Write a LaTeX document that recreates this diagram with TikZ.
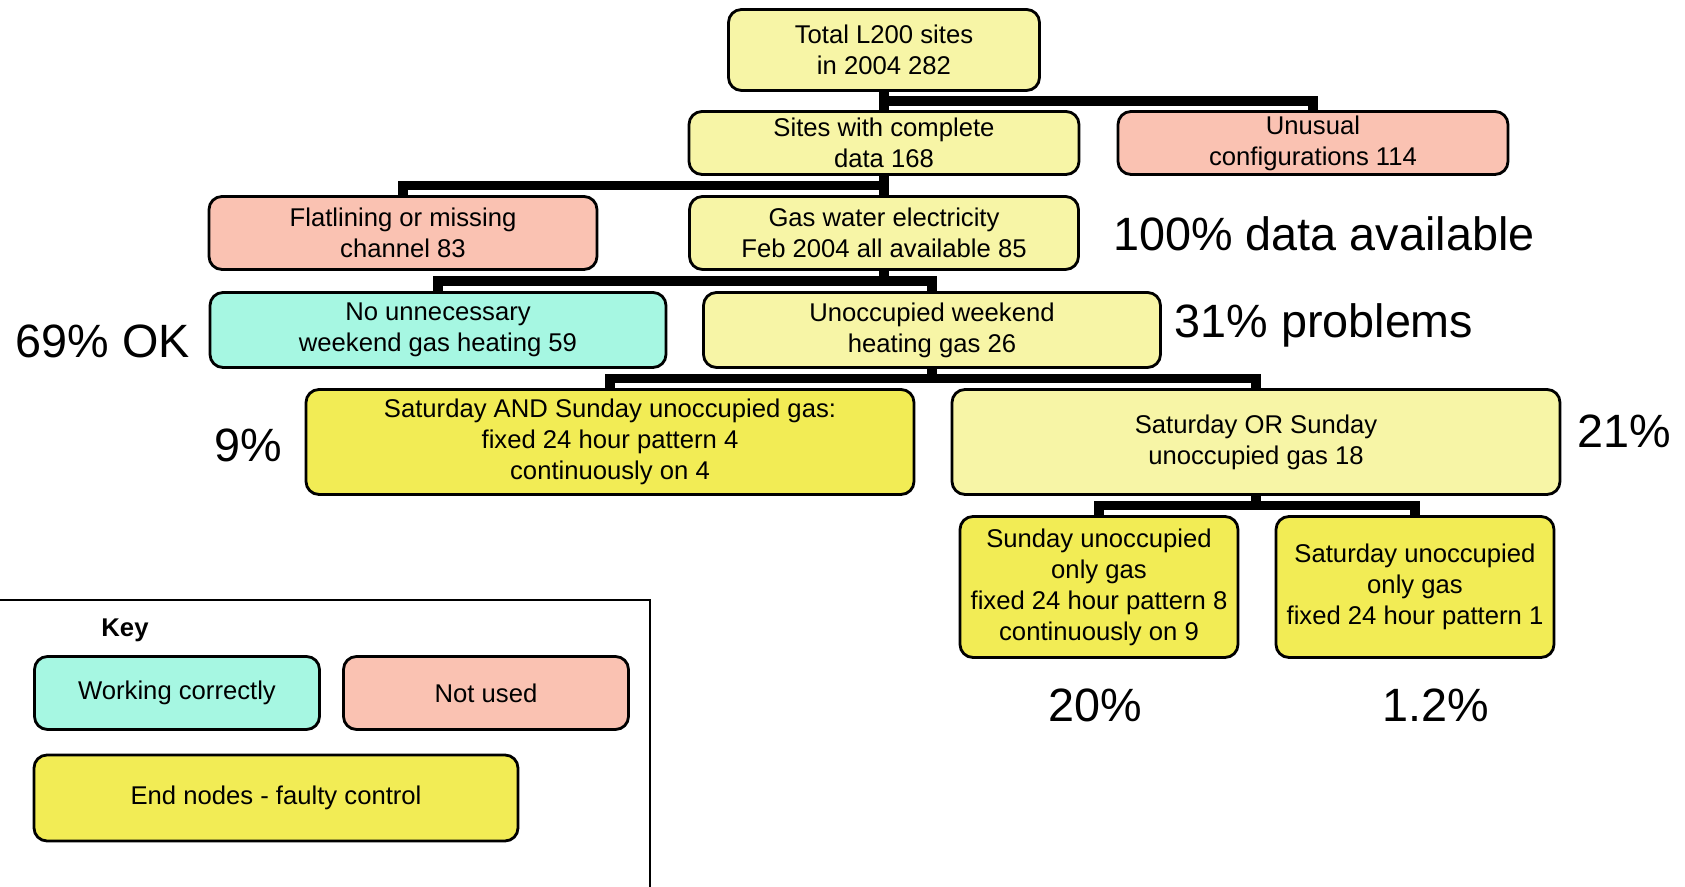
\documentclass[tikz,border=0pt]{standalone}
\usepackage{fontspec}
\setmainfont{Liberation Sans}
\usetikzlibrary{calc}
\definecolor{paleyellow}{HTML}{F7F5A6}
\definecolor{endyellow}{HTML}{F2EC55}
\definecolor{salmon}{HTML}{FAC2B2}
\definecolor{aqua}{HTML}{A6F7E2}
\tikzset{
  box/.style={draw=black, line width=0.8pt, rounded corners=0.13cm, align=center,
    inner sep=1pt, font=\fontsize{7.3}{8.8}\selectfont},
  link/.style={line width=2.6pt, black},
  share/.style={font=\fontsize{13.3}{15}\selectfont}
}
\begin{document}
\begin{tikzpicture}
\useasboundingbox (0,0) rectangle (16.85,8.87);

\node[box, fill=paleyellow, minimum width=3.11cm, minimum height=0.81cm] (total) at (8.84,8.37) {Total L200 sites\\in 2004 282};
\node[box, fill=paleyellow, minimum width=3.90cm, minimum height=0.63cm] (complete) at (8.84,7.44) {Sites with complete\\data 168};
\node[box, fill=salmon, minimum width=3.90cm, minimum height=0.63cm] (unusual) at (13.13,7.44) {Unusual\\configurations\ 114};

\node[box, fill=salmon, minimum width=3.88cm, minimum height=0.73cm] (flat) at (4.03,6.54) {Flatlining or missing\\channel 83};
\node[box, fill=paleyellow, minimum width=3.89cm, minimum height=0.73cm] (gasall) at (8.84,6.54) {Gas water electricity\\Feb 2004 all available\ 85};

\node[box, fill=aqua, minimum width=4.56cm, minimum height=0.75cm] (nogas) at (4.38,5.57) {No unnecessary\\weekend gas heating 59};
\node[box, fill=paleyellow, minimum width=4.57cm, minimum height=0.75cm] (weekend) at (9.32,5.57) {Unoccupied\ weekend\\heating gas 26};

\node[box, fill=endyellow, minimum width=6.08cm, minimum height=1.05cm] (satand) at (6.10,4.45) {Saturday AND Sunday unoccupied gas:\\fixed 24 hour pattern 4\\continuously on 4};
\node[box, fill=paleyellow, minimum width=6.08cm, minimum height=1.05cm] (sator) at (12.56,4.45) {Saturday OR Sunday\\unoccupied gas 18};

\node[box, fill=endyellow, minimum width=2.78cm, minimum height=1.41cm] (sunonly) at (10.99,3.00) {Sunday unoccupied\\only gas\\fixed 24 hour pattern 8\\continuously on 9};
\node[box, fill=endyellow, minimum width=2.78cm, minimum height=1.41cm] (satonly) at (14.15,3.00) {Saturday unoccupied\\only gas\\fixed 24 hour pattern 1};

% tree links
\draw[link] (total.south) -- (complete.north);
\draw[link] (total.south) |- ($(total.south)!.5!(unusual.north)$) -| (unusual.north);
\draw[link] (complete.south) -- (gasall.north);
\draw[link] (complete.south) |- ($(complete.south)!.5!(flat.north)$) -| (flat.north);
\draw[link] (gasall.south) |- ($(gasall.south)!.5!(nogas.north)$) -| (nogas.north);
\draw[link] (gasall.south) |- ($(gasall.south)!.5!(weekend.north)$) -| (weekend.north);
\draw[link] (weekend.south) |- ($(weekend.south)!.5!(satand.north)$) -| (satand.north);
\draw[link] (weekend.south) |- ($(weekend.south)!.5!(sator.north)$) -| (sator.north);
\draw[link] (sator.south) |- ($(sator.south)!.5!(sunonly.north)$) -| (sunonly.north);
\draw[link] (sator.south) |- ($(sator.south)!.5!(satonly.north)$) -| (satonly.north);

% percentages
\node[share] (pall) at (13.24,6.53) {100\% data available};
\node[share] (pprob) at (13.24,5.62) {31\% problems};
\node[share] (pok) at (1.03,5.46) {69\% OK};
\node[share] (pboth) at (2.48,4.42) {9\%};
\node[share] (peither) at (16.24,4.56) {21\%};
\node[share] (psun) at (10.95,1.82) {20\%};
\node[share] (psat) at (14.36,1.82) {1.2\%};

% key
\draw[line width=0.8pt] (0,2.87) -- (6.50,2.87) -- (6.50,0);
\node[font=\fontsize{7.3}{8.8}\selectfont\bfseries] (key) at (1.25,2.57) {Key};
\node[box, fill=aqua, minimum width=2.85cm, minimum height=0.73cm] (working) at (1.77,1.94) {Working correctly};
\node[box, fill=salmon, minimum width=2.85cm, minimum height=0.73cm] (notused) at (4.86,1.94) {Not used};
\node[box, fill=endyellow, minimum width=4.84cm, minimum height=0.86cm] (endnodes) at (2.76,0.89) {End nodes - faulty control};
\end{tikzpicture}
\end{document}
